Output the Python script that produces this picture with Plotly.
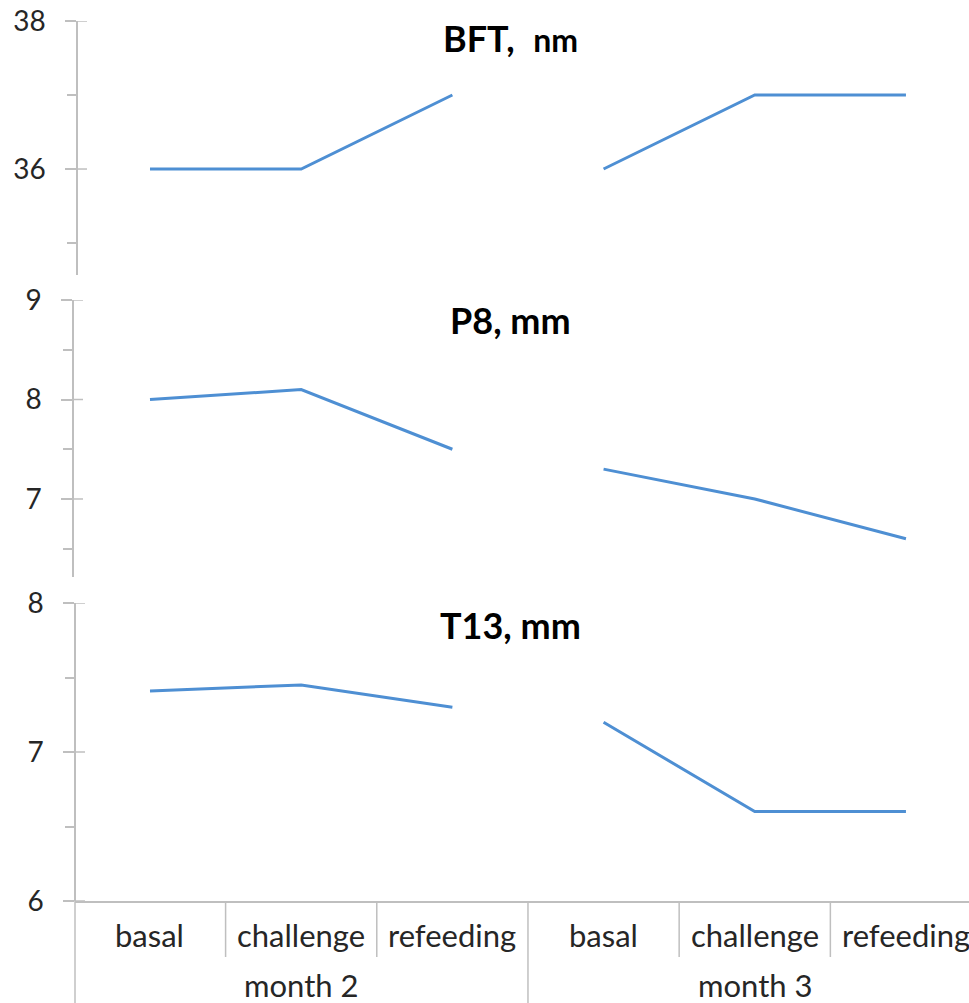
import plotly.graph_objects as go

# ---- data ----
categories = ["basal", "challenge", "refeeding"]
months = ["month 2", "month 3"]
bft_m2 = [36, 36, 37]
bft_m3 = [36, 37, 37]
p8_m2 = [8.0, 8.1, 7.5]
p8_m3 = [7.3, 7.0, 6.6]
t13_m2 = [7.41, 7.45, 7.3]
t13_m3 = [7.2, 6.6, 6.6]
titles = ["<b>BFT,</b>  <b><span style='font-size:32px'>nm</span></b>", "<b>P8, mm</b>", "<b>T13, mm</b>"]

W, H = 969, 1003
def px(p): return p / W
def py(p): return 1 - p / H

LINE = "#4e8fd3"
GREY = "#bfbfbf"
FONT = "Lato"
TXT = "#262626"

x_m2 = [0, 1, 2]
x_m3 = [3, 4, 5]

fig = go.Figure()
panels = [("y", bft_m2, bft_m3), ("y2", p8_m2, p8_m3), ("y3", t13_m2, t13_m3)]
for yref, a, b in panels:
    fig.add_trace(go.Scatter(x=x_m2, y=a, mode="lines", line=dict(color=LINE, width=3), xaxis="x", yaxis=yref))
    fig.add_trace(go.Scatter(x=x_m3, y=b, mode="lines", line=dict(color=LINE, width=3), xaxis="x", yaxis=yref))

def yax(domain, rng, dtick, tick0, minor, pos):
    return dict(domain=domain, range=rng, dtick=dtick, tick0=tick0, anchor="free", position=pos,
                automargin=False,
                showline=True, linecolor=GREY, linewidth=1.5, ticks="outside", ticklen=11,
                tickwidth=1.5, tickcolor=GREY, showgrid=False, zeroline=False,
                tickfont=dict(family=FONT, size=28, color=TXT), ticklabelstandoff=14,
                minor=dict(dtick=minor, ticks="outside", ticklen=9, tickwidth=1.5, tickcolor=GREY, showgrid=False))

ax_specs = [
    ("yaxis", [py(275), py(21)], [34.568, 38], 2, 36, 1, px(77)),
    ("yaxis2", [py(577), py(300)], [6.216, 9], 1, 6, 0.5, px(73)),
    ("yaxis3", [py(901), py(603)], [6, 8], 1, 6, 0.5, px(75)),
]
layout_axes = {}
shapes = []
for (name, dom, rng, dt, t0, mn, pos), yref in zip(ax_specs, ["y", "y2", "y3"]):
    layout_axes[name] = yax(dom, rng, dt, t0, mn, pos)
    v = t0
    while v <= rng[1] + 1e-9:
        if v >= rng[0] - 1e-9:
            shapes.append(dict(type="line", xref="paper", yref=yref, x0=pos, x1=pos + px(10), y0=v, y1=v,
                               line=dict(color=GREY, width=1.5)))
        v += dt

# category separators
for xb in [0.5, 1.5, 3.5, 4.5]:
    shapes.append(dict(type="line", xref="x", yref="paper", x0=xb, x1=xb, y0=py(901), y1=py(957),
                       line=dict(color=GREY, width=1.5)))
for xb in [2.5]:
    shapes.append(dict(type="line", xref="x", yref="paper", x0=xb, x1=xb, y0=py(901), y1=0,
                       line=dict(color=GREY, width=1.5)))
shapes.append(dict(type="line", xref="paper", yref="paper", x0=px(75), x1=px(75), y0=py(901), y1=0,
                   line=dict(color=GREY, width=1.5)))

annotations = []
for g in range(2):
    for i, c in enumerate(categories):
        annotations.append(dict(text=c, x=g * 3 + i, xref="x", y=py(935), yref="paper", showarrow=False,
                                font=dict(family=FONT, size=31, color=TXT), yanchor="middle"))
    annotations.append(dict(text=months[g], x=g * 3 + 1, xref="x", y=py(985), yref="paper", showarrow=False,
                            font=dict(family=FONT, size=31, color=TXT), yanchor="middle"))
for t, yp in zip(titles, [38, 320, 625]):
    annotations.append(dict(text=t, x=px(510), xref="paper", y=py(yp), yref="paper", showarrow=False,
                            font=dict(family=FONT, size=36, color="black"), yanchor="middle", xanchor="center"))

fig.update_layout(
    width=W, height=H, margin=dict(l=0, r=0, t=0, b=0, autoexpand=False),
    paper_bgcolor="white", plot_bgcolor="white", showlegend=False,
    xaxis=dict(domain=[px(75), 1], range=[-0.496, 5.417], anchor="y3", showline=True, linecolor=GREY,
               automargin=False,
               linewidth=1.5, ticks="", showticklabels=False, showgrid=False, zeroline=False),
    shapes=shapes, annotations=annotations, **layout_axes,
)

fig.write_html("out.html", config={"displayModeBar": False},
               post_script="document.body.style.margin='0';document.body.style.overflow='hidden';")
